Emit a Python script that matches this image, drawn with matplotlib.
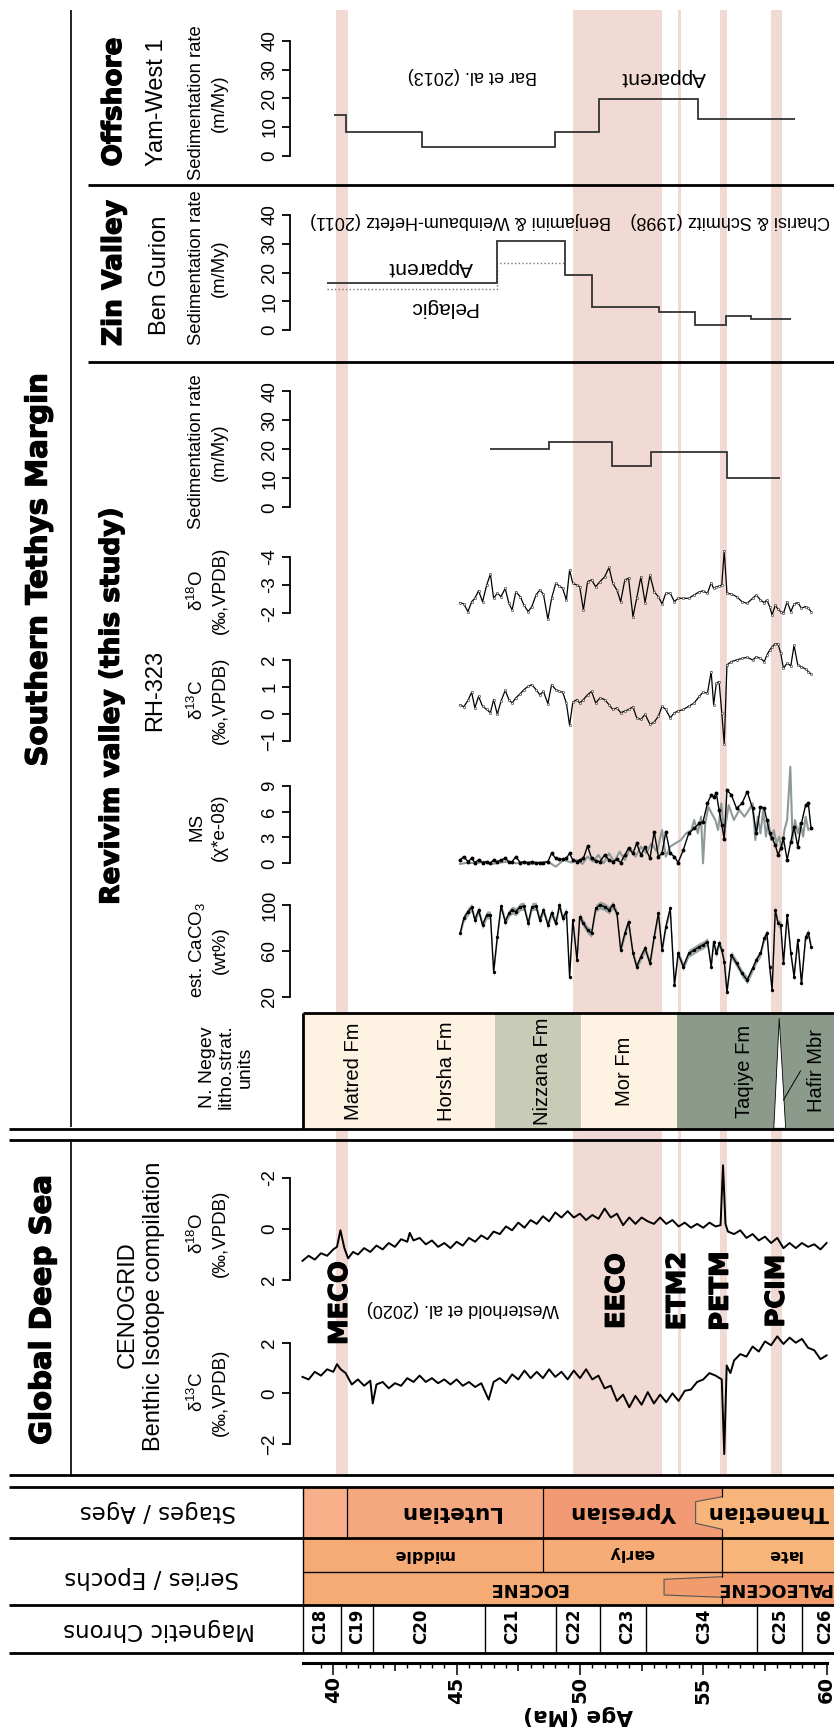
import numpy as np
import matplotlib
matplotlib.use('Agg')
import matplotlib.pyplot as plt
import matplotlib.patheffects as pe

plt.rcParams['font.family'] = ['Liberation Sans', 'DejaVu Sans']
plt.rcParams['mathtext.fontset'] = 'custom'
plt.rcParams['mathtext.rm'] = 'Liberation Sans'
plt.rcParams['mathtext.it'] = 'Liberation Sans:italic'

# ---------------- data ----------------
event_names = ['MECO', 'EECO', 'ETM2', 'PETM', 'PCIM']
event_start = [40.12, 49.72, 53.98, 55.69, 57.76]
event_end = [40.59, 53.34, 54.11, 55.97, 58.19]
event_label_age = [40.27, 51.50, 53.97, 55.71, 57.98]

chron_edges = [38.76, 40.32, 41.60, 46.16, 49.03, 50.80, 52.66, 57.16, 59.01, 60.30]
chron_names = ['C18', 'C19', 'C20', 'C21', 'C22', 'C23', 'C34', 'C25', 'C26']
chron_label_age = [39.46, 40.97, 43.58, 47.27, 49.76, 51.92, 55.03, 58.13, 59.96]

stage_edges = [38.76, 40.54, 48.51, 55.77, 60.30]
stage_names = ['', 'Lutetian', 'Ypresian', 'Thanetian']
stage_label_age = [39.6, 44.70, 51.81, 57.62]
stage_colors = ['#F7B08A', '#F5A780', '#F29A73', '#F8B57B']
stage_notch_age = 54.69

subepoch_edges = [38.76, 48.51, 55.77, 60.30]
subepoch_names = ['middle', 'early', 'late']
subepoch_label_age = [43.65, 52.08, 58.27]
subepoch_colors = ['#F6AB76', '#F6AC77', '#F8B57A']

epoch_edges = [38.76, 55.77, 60.30]
epoch_names = ['EOCENE', 'PALEOCENE']
epoch_label_age = [47.90, 57.86]
epoch_colors = ['#F6AA74', '#F29C6E']
epoch_notch_age = 53.41

litho_edges = [38.76, 46.55, 50.04, 53.94, 60.30]
litho_colors = ['#FEF3E2', '#C8CCB7', '#FEF3E2', '#8B9A8B']
litho_names = ['Matred Fm', 'Horsha Fm', 'Nizzana Fm', 'Mor Fm', 'Taqiye Fm', 'Hafir Mbr']
litho_label_age = [40.83, 44.61, 48.48, 51.82, 56.69, 59.59]
hafir_wedge_age = [57.86, 58.08, 58.34]
hafir_pointer_age = [58.25, 58.94]

# Offshore, Yam-West 1 (Bar et al. 2013)
off_edges = [40.01, 40.53, 43.59, 48.98, 50.79, 54.78, 58.72]
off_rate = [14.2, 8.4, 3.0, 8.4, 19.8, 12.8]

# Zin Valley, Ben Gurion
zin_edges = [39.75, 46.65, 49.39, 50.49, 53.22, 54.67, 55.92, 56.95, 58.55]
zin_apparent = [16.2, 31.0, 19.1, 8.1, 6.3, 1.9, 4.9, 3.9]
zin_pel_edges = [39.75, 46.65, 49.39]
zin_pelagic = [14.1, 23.2]

# Revivim sedimentation rate
rev_sr_edges = [46.37, 48.74, 51.28, 52.90, 55.96, 58.12]
rev_sr = [20.0, 22.6, 14.3, 18.9, 10.0]

# Revivim RH-323 samples
rev_age = [45.14, 45.29, 45.46, 45.61, 45.74, 45.89, 46.05, 46.22, 46.37, 46.50,
           46.65, 46.80, 46.97, 47.12, 47.25, 47.40, 47.58, 47.73, 47.90, 48.05,
           48.22, 48.37, 48.52, 48.70, 48.85, 49.02, 49.17, 49.30, 49.45, 49.58,
           49.71, 49.88, 49.99, 50.14, 50.31, 50.47, 50.64, 50.81, 51.00, 51.18,
           51.33, 51.50, 51.65, 51.82, 51.97, 52.15, 52.30, 52.47, 52.64, 52.84,
           53.01, 53.18, 53.33, 53.48, 53.66, 53.83, 53.98, 54.19, 54.41, 54.63,
           54.84, 54.99, 55.17, 55.32, 55.42, 55.53, 55.64, 55.75, 55.85, 55.96,
           56.14, 56.35, 56.57, 56.78, 57.00, 57.15, 57.32, 57.47, 57.58, 57.69,
           57.79, 57.92, 58.03, 58.14, 58.25, 58.40, 58.55, 58.68, 58.83, 58.98,
           59.15, 59.26, 59.37]
rev_d18o = [-2.38, -2.33, -2.06, -2.41, -2.53, -2.80, -2.41, -3.00, -3.39, -2.53,
            -2.71, -2.59, -2.88, -2.35, -2.12, -2.76, -2.59, -2.29, -2.06, -2.24,
            -2.65, -2.82, -2.68, -1.79, -2.53, -3.06, -2.96, -2.88, -2.47, -3.53,
            -3.06, -3.00, -2.94, -2.12, -3.12, -3.18, -2.94, -3.12, -3.29, -3.62,
            -3.06, -2.82, -2.41, -3.18, -3.24, -1.88, -2.53, -3.29, -2.38, -3.35,
            -2.76, -2.59, -2.33, -2.71, -2.71, -2.41, -2.53, -2.53, -2.53, -2.65,
            -2.76, -2.79, -2.71, -3.08, -2.88, -2.94, -2.96, -3.00, -4.21, -2.71,
            -2.68, -2.59, -2.41, -2.35, -2.53, -2.65, -2.47, -2.38, -2.47, -2.24,
            -1.94, -2.29, -2.14, -2.06, -2.00, -2.41, -2.06, -2.33, -2.38, -2.18,
            -2.24, -2.18, -2.06]
rev_d13c = [0.34, 0.26, 0.50, 0.80, 0.22, 0.65, 0.28, 0.16, 0.04, 0.53,
            -0.02, 0.47, 0.87, 0.53, 0.40, 0.59, 0.75, 0.90, 1.02, 1.08,
            0.90, 0.71, 0.83, 0.38, 1.08, 0.90, 0.83, 0.80, 0.40, -0.43,
            0.43, 0.53, 0.40, 0.53, 0.71, 0.83, 0.40, 0.59, 0.53, 0.34,
            0.16, 0.22, 0.04, 0.10, 0.16, 0.26, -0.15, -0.21, -0.02, -0.39,
            -0.31, -0.09, 0.28, 0.16, -0.15, 0.04, 0.10, 0.16, 0.28, 0.40,
            0.65, 0.80, 0.77, 1.57, 0.34, 1.14, 1.20, 0.04, -1.13, 1.82,
            1.94, 2.00, 2.06, 2.10, 2.00, 2.12, 2.06, 1.94, 2.18, 2.37,
            2.49, 2.61, 2.59, 2.25, 1.69, 1.88, 1.78, 2.55, 1.82, 1.75,
            1.66, 1.57, 1.48]
rev_caco3 = [75.3, 88.4, 94.2, 98.0, 86.9, 95.6, 82.5, 91.3, 91.3, 41.8,
             72.4, 99.0, 85.5, 92.7, 95.6, 94.2, 98.5, 99.0, 84.0, 98.5,
             99.0, 86.9, 95.6, 82.5, 93.3, 84.0, 100.0, 88.4, 94.2, 37.5,
             86.9, 52.0, 89.8, 84.0, 78.2, 75.3, 97.1, 100.0, 98.5, 95.6,
             100.0, 92.7, 60.7, 75.3, 85.5, 57.8, 46.2, 54.9, 62.2, 49.1,
             72.4, 92.7, 60.7, 81.1, 97.1, 30.2, 57.8, 46.2, 57.8, 60.7,
             63.6, 65.1, 68.0, 46.2, 68.0, 57.8, 66.5, 60.7, 50.5, 24.4,
             56.4, 49.1, 40.4, 34.5, 44.7, 52.0, 57.8, 70.9, 75.3, 46.2,
             25.8, 95.6, 84.0, 82.5, 49.1, 91.3, 57.8, 37.5, 69.5, 31.6,
             72.4, 75.3, 63.6]
rev_ms = [0.39, 0.77, 0.19, 0.58, 0.08, 0.39, 0.08, 0.19, 0.00, 0.39,
          0.19, 0.39, 0.58, 0.19, 0.19, 0.77, 0.08, 0.19, 0.08, 0.19,
          0.08, 0.08, 0.08, 0.19, 1.16, 0.58, 0.46, 0.46, 0.58, 1.16,
          0.39, 0.19, 0.39, 0.58, 2.01, 0.58, 0.31, 0.19, 0.97, 0.39,
          0.19, 0.46, 0.08, 0.97, 1.74, 1.16, 2.32, 0.97, 1.85, 0.58,
          3.67, 0.77, 1.16, 3.67, 1.16, 0.77, 0.08, 1.54, 3.47, 4.05,
          4.63, 4.83, 6.95, 7.92, 7.72, 8.11, 6.18, 4.44, 2.78, 8.49,
          7.92, 6.37, 6.95, 8.30, 6.37, 3.47, 6.56, 6.37, 5.02, 3.47,
          2.90, 2.12, 0.97, 1.74, 2.90, 0.39, 2.51, 4.25, 1.93, 4.63,
          6.76, 6.95, 4.05]

# high-resolution MS (grey)
ms_hr_age = [45.14, 45.46, 45.79, 46.11, 46.43, 46.76, 47.08, 47.40, 47.73, 48.05,
             48.37, 48.70, 49.02, 49.34, 49.67, 49.88, 50.10, 50.31, 50.53, 50.75,
             50.96, 51.18, 51.39, 51.61, 51.82, 52.04, 52.25, 52.47, 52.69, 52.90,
             53.12, 53.33, 53.48, 53.66, 53.87, 54.09, 54.30, 54.52, 54.63, 54.78,
             54.91, 54.99, 55.08, 55.21, 55.34, 55.49, 55.60, 55.73, 55.85, 56.03,
             56.24, 56.46, 56.67, 56.85, 57.00, 57.11, 57.21, 57.32, 57.43, 57.54,
             57.64, 57.75, 57.86, 57.97, 58.08, 58.18, 58.29, 58.40, 58.53, 58.62,
             58.72, 58.83, 58.94, 59.05, 59.15, 59.26]
ms_hr = [-0.08, 0.08, 0.00, 0.19, -0.08, 0.08, 0.19, 0.00, 0.12, -0.08,
         0.08, 0.19, -0.39, 0.39, 0.08, 0.39, -0.08, 0.77, 0.19, 0.97,
         0.00, 1.16, 0.19, 1.35, 0.39, 1.74, 0.77, 1.93, 1.16, 2.32,
         1.35, 3.86, 0.77, 1.93, 2.32, 2.70, 3.47, 3.86, 5.02, 3.47,
         5.41, 0.00, 4.63, 6.56, 5.79, 5.02, 3.86, 6.95, 3.47, 6.76,
         5.02, 6.18, 5.41, 6.18, 6.95, 2.70, 5.41, 3.47, 6.18, 3.09,
         5.02, 2.70, 3.86, 2.32, 3.09, 1.54, 3.86, 5.02, 11.2, 2.70,
         5.02, 3.47, 4.63, 3.09, 5.41, 3.86]

# CENOGRID benthic compilation (Westerhold et al. 2020)
cg_o_age = [38.75, 39.00, 39.25, 39.50, 39.75, 40.00, 40.15, 40.29, 40.45, 40.60,
            40.80, 41.00, 41.25, 41.50, 41.75, 42.00, 42.25, 42.50, 42.75, 43.00,
            43.10, 43.25, 43.50, 43.75, 44.00, 44.25, 44.50, 44.75, 45.00, 45.25,
            45.50, 45.75, 46.00, 46.25, 46.50, 46.75, 47.00, 47.25, 47.50, 47.75,
            48.00, 48.25, 48.50, 48.75, 49.00, 49.25, 49.50, 49.75, 50.00, 50.25,
            50.50, 50.75, 51.00, 51.25, 51.50, 51.75, 52.00, 52.25, 52.50, 52.75,
            53.00, 53.25, 53.50, 53.75, 54.00, 54.25, 54.50, 54.75, 55.00, 55.25,
            55.50, 55.70, 55.80, 55.90, 56.00, 56.25, 56.50, 56.75, 57.00, 57.25,
            57.50, 57.75, 58.00, 58.25, 58.50, 58.75, 59.00, 59.25, 59.50, 59.75,
            60.00]
cg_d18o = [1.25, 1.05, 1.20, 0.95, 1.05, 0.80, 0.70, 0.05, 0.75, 1.15,
           0.90, 1.00, 0.75, 0.90, 0.65, 0.80, 0.55, 0.70, 0.40, 0.50,
           0.15, 0.45, 0.35, 0.60, 0.45, 0.70, 0.55, 0.75, 0.50, 0.65,
           0.35, 0.50, 0.25, 0.40, 0.10, 0.20, -0.10, 0.05, -0.25, -0.05,
           -0.35, -0.20, -0.50, -0.30, -0.65, -0.45, -0.70, -0.45, -0.60, -0.35,
           -0.55, -0.40, -0.80, -0.45, -0.60, -0.15, -0.45, -0.20, -0.45, -0.30,
           -0.20, -0.45, -0.20, -0.35, -0.10, -0.25, -0.05, -0.20, -0.05, -0.25,
           -0.10, -0.15, -2.50, -0.20, 0.10, 0.20, 0.05, 0.35, 0.20, 0.45,
           0.30, 0.55, 0.35, 0.75, 0.55, 0.75, 0.55, 0.70, 0.60, 0.80,
           0.55]
cg_c_age = [38.75, 39.00, 39.25, 39.50, 39.75, 40.00, 40.15, 40.30, 40.50, 40.75,
            41.00, 41.25, 41.50, 41.60, 41.75, 42.00, 42.25, 42.50, 42.75, 43.00,
            43.25, 43.50, 43.75, 44.00, 44.25, 44.50, 44.75, 45.00, 45.25, 45.50,
            45.75, 46.00, 46.30, 46.50, 46.75, 47.00, 47.25, 47.50, 47.75, 48.00,
            48.25, 48.50, 48.75, 49.00, 49.25, 49.50, 49.75, 50.00, 50.25, 50.50,
            50.75, 51.00, 51.25, 51.50, 51.75, 52.00, 52.25, 52.50, 52.75, 53.00,
            53.25, 53.50, 53.75, 54.00, 54.25, 54.50, 54.75, 55.00, 55.25, 55.50,
            55.75, 55.85, 55.95, 56.10, 56.25, 56.50, 56.75, 57.00, 57.25, 57.50,
            57.75, 58.00, 58.25, 58.50, 58.75, 59.00, 59.25, 59.50, 59.75, 60.00]
cg_d13c = [0.65, 0.55, 0.85, 0.70, 0.95, 0.85, 1.15, 0.95, 0.80, 0.35,
           0.55, 0.30, 0.50, -0.40, 0.35, 0.45, 0.20, 0.40, 0.30, 0.60,
           0.45, 0.70, 0.45, 0.60, 0.40, 0.55, 0.35, 0.55, 0.30, 0.45,
           0.25, 0.40, -0.25, 0.45, 0.60, 0.40, 0.75, 0.55, 0.90, 0.60,
           0.85, 0.60, 0.95, 0.65, 0.85, 0.55, 0.90, 0.60, 0.95, 0.55,
           0.70, 0.20, 0.30, -0.30, -0.05, -0.55, -0.10, -0.45, 0.05, -0.40,
           -0.05, -0.35, 0.00, -0.30, 0.10, 0.15, 0.45, 0.55, 0.80, 0.70,
           0.55, -2.40, 1.10, 0.80, 1.30, 1.55, 1.45, 1.85, 1.65, 2.05,
           1.90, 2.25, 1.95, 2.20, 2.00, 2.15, 1.80, 1.70, 1.35, 1.50]

# ---------------- layout (pixels of the 834 x 1729 canvas) ----------------
W, H = 834, 1729
X0 = 302.7
AGE0, AGE1 = 38.76, 60.30
BAND = '#F2DAD4'
BOLD = 'DejaVu Sans'
HEAVY = [pe.withStroke(linewidth=0.9, foreground='black')]

fig = plt.figure(figsize=(W / 100, H / 100), dpi=100)

bg = fig.add_axes([X0 / W, 0, 1 - X0 / W, 1])
bg.set_xlim(AGE0, AGE1)
bg.set_ylim(H, 0)
bg.axis('off')
bg.set_zorder(0)

lay = fig.add_axes([0, 0, 1, 1])
lay.set_xlim(0, W)
lay.set_ylim(H, 0)
lay.axis('off')
lay.set_zorder(3)


def panel(top, bottom, lo, hi, ticks, labels):
    ax = fig.add_axes([X0 / W, 1 - bottom / H, 1 - X0 / W, (bottom - top) / H])
    ax.set_xlim(AGE0, AGE1)
    ax.set_ylim(lo, hi)
    ax.patch.set_visible(False)
    for s in ('top', 'right', 'bottom'):
        ax.spines[s].set_visible(False)
    ax.spines['left'].set_position(('outward', 9))
    ax.spines['left'].set_bounds(min(ticks), max(ticks))
    ax.spines['left'].set_linewidth(1.3)
    ax.set_xticks([])
    ax.set_yticks(ticks)
    ax.set_yticklabels(labels, rotation=90, va='center', fontsize=13.5)
    ax.tick_params(axis='y', length=6, width=1.3, pad=2.5)
    ax.set_zorder(2)
    return ax


def put(x, y, s, size, rot=90, weight='normal', family='Liberation Sans', **kw):
    lay.text(x, y, s, fontsize=size, rotation=rot, fontweight=weight,
             family=family, ha='center', va='center', **kw)


def note(age, y, s, size, rot=180, **kw):
    bg.text(age, y, s, fontsize=size, rotation=rot, ha='center', va='center', **kw)


# event bands
for a0, a1 in zip(event_start, event_end):
    bg.axvspan(a0, a1, ymin=1 - 1476 / H, ymax=1 - 10 / H, color=BAND, lw=0, zorder=0)

# ---- Offshore ----
ax = panel(41, 155.7, 0, 40, [0, 10, 20, 30, 40], ['0', '10', '20', '30', '40'])
ax.stairs(off_rate, off_edges, baseline=None, color='#333333', lw=1.3)
note(45.62, 75, 'Bar et al. (2013)', 13)
note(53.39, 77, 'Apparent', 15)

# ---- Zin Valley ----
ax = panel(215, 330, 0, 40, [0, 10, 20, 30, 40], ['0', '10', '20', '30', '40'])
ax.stairs(zin_pelagic, zin_pel_edges, baseline=None, color='#777777', lw=1.0, ls=':')
ax.stairs(zin_apparent, zin_edges, baseline=None, color='#333333', lw=1.3)
note(45.14, 220, 'Benjamini & Weinbaum-Hefetz (2011)', 13)
note(56.08, 220, 'Charisi & Schmitz (1998)', 13)
note(43.96, 267, 'Apparent', 15)
note(44.45, 307, 'Pelagic', 15)

# ---- Revivim ----
ax = panel(391.3, 507.3, 0, 40, [0, 10, 20, 30, 40], ['0', '10', '20', '30', '40'])
ax.stairs(rev_sr, rev_sr_edges, baseline=None, color='#333333', lw=1.3)

ax = panel(556.7, 613.3, -2, -4, [-2, -3, -4], ['-2', '-3', '-4'])
ax.plot(rev_age, rev_d18o, color='black', lw=0.9, marker='o', ms=1.6, mfc='white',
        mec='#222222', mew=0.4, clip_on=False)

ax = panel(660, 740.7, -1, 2, [-1, 0, 1, 2], ['\u22121', '0', '1', '2'])
ax.plot(rev_age, rev_d13c, color='black', lw=0.9, marker='o', ms=1.6, mfc='white',
        mec='#222222', mew=0.4, clip_on=False)

ax = panel(785.7, 863.3, 0, 9, [0, 3, 6, 9], ['0', '3', '6', '9'])
ax.plot(ms_hr_age, ms_hr, color='#8E9A9A', lw=1.5, clip_on=False)
ax.plot(rev_age, rev_ms, color='black', lw=1.0, marker='o', ms=1.8, clip_on=False)

ax = panel(905, 996.7, 20, 100, [20, 60, 100], ['20', '60', '100'])
cc = np.array(rev_caco3)
ax.fill_between(rev_age, cc - 3.5, cc + 3.5, color='#879694', lw=0, alpha=0.85, clip_on=False)
ax.plot(rev_age, rev_caco3, color='black', lw=1.0, marker='o', ms=1.4, clip_on=False)

# ---- litho units ----
for a0, a1, c in zip(litho_edges[:-1], litho_edges[1:], litho_colors):
    bg.bar(a0, 1129.3 - 1012.7, width=a1 - a0, bottom=1012.7, align='edge', color=c,
           lw=0, zorder=2)
bg.fill(hafir_wedge_age, [1128.3, 1018.3, 1128.3],
        facecolor='white', edgecolor='black', lw=0.6, zorder=3)
bg.plot(hafir_pointer_age, [1100, 1071], color='black', lw=0.7, zorder=3)
for name, a in zip(litho_names, litho_label_age):
    note(a, 1071, name, 14.5, rot=90, zorder=4)

# ---- deep sea ----
ax = panel(1178, 1280, 2, -2, [-2, 0, 2], ['-2', '0', '2'])
ax.plot(cg_o_age, cg_d18o, color='black', lw=1.4, clip_on=False)
ax = panel(1342.7, 1444, -2, 2, [-2, 0, 2], ['\u22122', '0', '2'])
ax.plot(cg_c_age, cg_d13c, color='black', lw=1.4, clip_on=False)
for name, a in zip(event_names, event_label_age):
    note(a, 1303 if name == 'MECO' else 1291, name, 18.5, rot=90,
         fontweight='bold', family=BOLD, zorder=5, path_effects=HEAVY)
note(45.26, 1308, 'Westerhold et al. (2020)', 13)

# ---- stratigraphic columns ----
for a0, a1, c in zip(stage_edges[:-1], stage_edges[1:], stage_colors):
    bg.bar(a0, 51, width=a1 - a0, bottom=1486.7, align='edge', color=c, lw=0, zorder=2)
for a0, a1, c in zip(subepoch_edges[:-1], subepoch_edges[1:], subepoch_colors):
    bg.bar(a0, 34, width=a1 - a0, bottom=1537.7, align='edge', color=c, lw=0, zorder=2)
for a0, a1, c in zip(epoch_edges[:-1], epoch_edges[1:], epoch_colors):
    bg.bar(a0, 33.3, width=a1 - a0, bottom=1571.7, align='edge', color=c, lw=0, zorder=2)
bnd = stage_edges[3]
nx = [bnd, stage_notch_age, stage_notch_age, bnd]
ny = [1496.7, 1501.7, 1523.3, 1529.3]
bg.fill(nx, ny, color=stage_colors[3], lw=0, zorder=3)
bg.plot(nx, ny, color='#555555', lw=0.8, zorder=4)
ex = [bnd, epoch_notch_age, epoch_notch_age, bnd]
ey = [1576.7, 1579.3, 1595, 1597.3]
bg.fill(ex, ey, color=epoch_colors[1], lw=0, zorder=3)
bg.plot(ex, ey, color='#555555', lw=0.8, zorder=4)
bg.vlines(stage_edges[1], 1486.7, 1537.7, color='black', lw=0.9, zorder=4)
bg.vlines(stage_edges[2], 1486.7, 1571.7, color='black', lw=0.9, zorder=4)
bg.vlines([bnd] * 4, [1486.7, 1529.3, 1537.7, 1597.3], [1496.7, 1537.7, 1576.7, 1605],
          color='black', lw=0.9, zorder=4)
bg.vlines(chron_edges[1:-1], 1605, 1652.7, color='black', lw=1.0, zorder=4)

for name, a in zip(stage_names, stage_label_age):
    note(a, 1512, name, 15.5, fontweight='bold', family=BOLD, zorder=5)
for name, a in zip(subepoch_names, subepoch_label_age):
    note(a, 1554, name, 11.5, fontweight='bold', family=BOLD, zorder=5)
for name, a in zip(epoch_names, epoch_label_age):
    note(a, 1588, name, 12.8, fontweight='bold', family=BOLD, zorder=5)
for name, a in zip(chron_names, chron_label_age):
    note(a, 1626, name, 12, rot=90, fontweight='bold', family=BOLD, zorder=5)

# ---- age axis ----
ax_age = fig.add_axes([X0 / W, 1 - 1663.3 / H, 1 - X0 / W, 0.5 / H])
ax_age.set_xlim(AGE0, AGE1)
ax_age.patch.set_visible(False)
for s in ('top', 'right', 'left'):
    ax_age.spines[s].set_visible(False)
ax_age.spines['bottom'].set_linewidth(2.2)
ax_age.spines['bottom'].set_bounds(38.78, 60)
ax_age.set_yticks([])
age_major = [40, 42.5, 45, 47.5, 50, 52.5, 55, 57.5, 60]
age_labels = ['40', '', '45', '', '50', '', '55', '', '60']
ax_age.set_xticks(age_major)
ax_age.set_xticklabels(age_labels, rotation=90, fontsize=14, fontweight='bold', family=BOLD)
ax_age.set_xticks(np.arange(39.5, 60.01, 0.5), minor=True)
ax_age.tick_params(axis='x', which='major', length=8.4, width=1.1, pad=1)
ax_age.tick_params(axis='x', which='minor', length=3.6, width=1.0)
for t, lab in zip(ax_age.xaxis.get_major_ticks(), age_labels):
    if lab == '':
        t.tick1line.set_markersize(6)
note(49.94, 1715, 'Age (Ma)', 15.5, fontweight='bold', family=BOLD)

# ---- frame lines ----
lk = dict(color='black', lw=2.0)
lay.hlines([185, 361.7], 87.8, W, **lk)
lay.hlines([1129.3, 1140, 1475, 1486.7, 1537.7, 1605, 1652.7], 9, W, **lk)
lay.hlines(1571.7, X0, W, color='black', lw=1.0)
lay.hlines(1012.7, X0, W, **lk)
lay.vlines(X0, 1012.7, 1129.3, **lk)
lay.vlines(X0, 1486.7, 1652.7, color='black', lw=1.0)
lay.vlines([70.7, 70.7], [10, 1141.7], [1127, 1476], color='black', lw=1.2)

# ---- titles and headers ----
put(38.6, 570, 'Southern Tethys Margin', 21, weight='bold', family=BOLD, path_effects=HEAVY)
put(42.5, 1310, 'Global Deep Sea', 21, weight='bold', family=BOLD, path_effects=HEAVY)
put(114, 102, 'Offshore', 19, weight='bold', family=BOLD, path_effects=HEAVY)
put(157, 102, 'Yam-West 1', 17)
put(114, 273, 'Zin Valley', 19, weight='bold', family=BOLD, path_effects=HEAVY)
put(160, 275, 'Ben Gurion', 17)
put(111.7, 706, 'Revivim valley (this study)', 19, weight='bold', family=BOLD,
    path_effects=HEAVY)
put(155, 690, 'RH-323', 17)
put(128, 1305, 'CENOGRID', 17)
put(154, 1306, 'Benthic Isotope compilation', 17)

lab = dict(linespacing=1.4)
put(208, 103, 'Sedimentation rate\n(m/My)', 13.3, **lab)
put(208, 268, 'Sedimentation rate\n(m/My)', 13.3, **lab)
put(208, 452, 'Sedimentation rate\n(m/My)', 13.3, **lab)
put(208, 590, '\u03b4$^{18}$O\n(\u2030,VPDB)', 13.5, **lab)
put(208, 700, '\u03b4$^{13}$C\n(\u2030,VPDB)', 13.5, **lab)
put(208, 827, 'MS\n(\u03c7*e-08)', 13.5, **lab)
put(208, 950, 'est. CaCO$_3$\n(wt%)', 13.5, **lab)
put(226, 1067, 'N. Negev\nlitho.strat.\nunits', 14, linespacing=1.15)
put(208, 1233, '\u03b4$^{18}$O\n(\u2030,VPDB)', 13.5, **lab)
put(208, 1392, '\u03b4$^{13}$C\n(\u2030,VPDB)', 13.5, **lab)

put(158, 1512, 'Stages / Ages', 16.5, rot=180, family='DejaVu Sans')
put(152, 1578, 'Series / Epochs', 16.5, rot=180, family='DejaVu Sans')
put(159, 1630, 'Magnetic Chrons', 16.5, rot=180, family='DejaVu Sans')

fig.savefig('out.png', dpi=100)
